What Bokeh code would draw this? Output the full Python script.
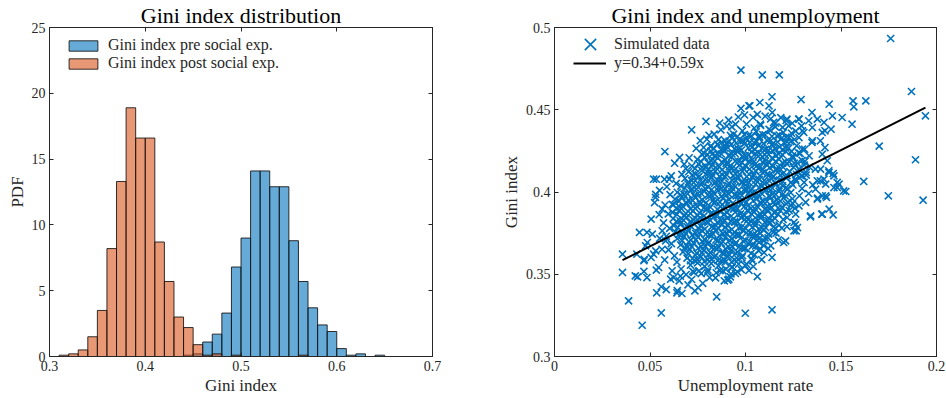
from bokeh.plotting import figure
from bokeh.layouts import row
from bokeh.models import Range1d, FixedTicker, LinearAxis, Legend, LegendItem
from bokeh.embed import file_html
from bokeh.resources import INLINE

FONT = "Liberation Serif"
TXT = "#262626"
BLUE = "#0072BD"
ORANGE = "#D95319"

# ---------------- histogram data (PDF per 0.01-wide bin) ----------------
bin_left = [0.30, 0.31, 0.32, 0.33, 0.34, 0.35, 0.36, 0.37, 0.38, 0.39,
            0.40, 0.41, 0.42, 0.43, 0.44, 0.45, 0.46, 0.47, 0.48, 0.49,
            0.50, 0.51, 0.52, 0.53, 0.54, 0.55, 0.56, 0.57, 0.58, 0.59,
            0.60, 0.61, 0.62, 0.63, 0.64, 0.65, 0.66, 0.67, 0.68, 0.69]
bin_width = 0.01
pdf_pre = [0, 0, 0, 0, 0, 0, 0, 0, 0, 0,
           0, 0, 0, 0, 0.1, 0.2, 1.1, 1.7, 3.3, 6.8,
           9.0, 14.1, 14.1, 12.9, 12.9, 8.8, 5.7, 3.7, 2.4, 1.9,
           0.6, 0.1, 0.2, 0, 0.1, 0, 0, 0, 0, 0]
pdf_post = [0, 0.1, 0.2, 0.5, 1.5, 3.5, 8.2, 13.3, 18.9, 16.6,
            16.6, 8.7, 5.7, 3.0, 2.2, 0.9, 0.1, 0.2, 0, 0.1,
            0, 0, 0, 0, 0, 0, 0.1, 0, 0, 0,
            0, 0, 0, 0, 0, 0, 0, 0, 0, 0]
hist_x_ticks = [0.3, 0.4, 0.5, 0.6, 0.7]
hist_x_labels = ["0.3", "0.4", "0.5", "0.6", "0.7"]
hist_y_ticks = [0, 5, 10, 15, 20, 25]
hist_y_labels = ["0", "5", "10", "15", "20", "25"]

# ---------------- scatter data ----------------
edge_unemp = [
    0.1760, 0.0976, 0.1088, 0.1177, 0.1869,
    0.1942, 0.1700, 0.1890, 0.1619, 0.1748,
    0.1930, 0.1630, 0.1563, 0.1567, 0.1558,
    0.1506, 0.1438, 0.1455, 0.1448, 0.1416,
    0.1348, 0.1291, 0.1139, 0.1075, 0.1023,
    0.0976, 0.0793, 0.0809, 0.0718, 0.0578,
    0.0629, 0.0655, 0.0679, 0.0519, 0.0533,
    0.0576, 0.0601, 0.0529, 0.0524, 0.0506,
    0.0356, 0.0356, 0.0388, 0.0459, 0.0559,
    0.0445, 0.0484, 0.0431, 0.0423, 0.0435,
    0.0468, 0.0484, 0.0470, 0.0506, 0.0519,
    0.0533, 0.0545, 0.0535, 0.0559, 0.0585,
    0.0641, 0.0667, 0.0653, 0.0624, 0.0659,
    0.0699, 0.0735, 0.0730, 0.0849, 0.0889,
    0.0907, 0.0921, 0.0947, 0.0812, 0.0999,
    0.1139, 0.1062, 0.1139, 0.1200, 0.1155,
    0.1217, 0.1265, 0.1261, 0.1340, 0.1399,
    0.1438, 0.1459, 0.1378, 0.1424, 0.1514,
    0.1525, 0.1480, 0.1459, 0.1436, 0.1366,
    0.1392, 0.1392, 0.1416, 0.1348, 0.1310,
    0.1305, 0.1331, 0.1279, 0.1293, 0.1217,
    0.1147, 0.1156, 0.1078, 0.1040, 0.0929,
    0.0894, 0.0819, 0.0781, 0.0772, 0.0825,
]
edge_gini = [
    0.4933, 0.4741, 0.4712, 0.4712, 0.4611,
    0.4463, 0.4279, 0.4196, 0.4064, 0.3977,
    0.3950, 0.4554, 0.4554, 0.4518, 0.4412,
    0.4453, 0.4534, 0.4463, 0.4382, 0.4270,
    0.4483, 0.4562, 0.4579, 0.4544, 0.4524,
    0.4508, 0.4429, 0.4345, 0.4378, 0.4246,
    0.4175, 0.4210, 0.4169, 0.4078, 0.4078,
    0.4078, 0.4078, 0.3967, 0.3936, 0.3835,
    0.3622, 0.3511, 0.3338, 0.3190, 0.3265,
    0.3754, 0.3754, 0.3622, 0.3490, 0.3484,
    0.3517, 0.3480, 0.3590, 0.3602, 0.3622,
    0.3525, 0.3541, 0.3387, 0.3424, 0.3407,
    0.3387, 0.3383, 0.3460, 0.3480, 0.3488,
    0.3436, 0.3399, 0.3511, 0.3363, 0.3460,
    0.3464, 0.3484, 0.3505, 0.3480, 0.3263,
    0.3284, 0.3486, 0.3602, 0.3693, 0.3778,
    0.3790, 0.3764, 0.3800, 0.3849, 0.3865,
    0.3896, 0.3861, 0.3963, 0.3967, 0.4007,
    0.4003, 0.4058, 0.4112, 0.4129, 0.4139,
    0.4068, 0.4311, 0.4372, 0.4301, 0.4260,
    0.4362, 0.4433, 0.4443, 0.4402, 0.4443,
    0.4423, 0.4396, 0.4412, 0.4453, 0.4396,
    0.4311, 0.4281, 0.4271, 0.4230, 0.4230,
]
mid_unemp = [
    0.1018, 0.1123, 0.1140, 0.1376, 0.1411,
    0.1402, 0.1280, 0.1298, 0.1350, 0.1280,
    0.1350, 0.1298, 0.1333, 0.1402, 0.1428,
    0.1393, 0.1437, 0.1463, 0.1490, 0.1463,
    0.1420, 0.1376, 0.1367, 0.1402, 0.1228,
    0.1263, 0.1255, 0.1280, 0.1298, 0.1263,
    0.1307, 0.1481, 0.1420, 0.1402, 0.1341,
    0.1376, 0.1315, 0.1280, 0.1263, 0.1254,
    0.1272, 0.1254, 0.1210, 0.1132, 0.1079,
    0.1097, 0.1036, 0.1190, 0.1160, 0.1411,
    0.0608, 0.0616, 0.0643, 0.0530, 0.0564,
    0.0550, 0.0512, 0.0486, 0.0477, 0.0468,
    0.0530, 0.0564, 0.0582, 0.0913, 0.0757,
    0.0588, 0.0605, 0.0579, 0.0596, 0.0571,
    0.0603, 0.0585, 0.0612, 0.0597, 0.0628,
    0.0641, 0.0577, 0.0563, 0.0551, 0.0611,
    0.0637, 0.0548, 0.0617, 0.0742, 0.0763,
    0.0798, 0.0836, 0.0871, 0.0902, 0.0948,
    0.0865, 0.0912, 0.0962, 0.0705, 0.0688,
    0.0667, 0.1062, 0.1103, 0.1132, 0.1185,
    0.1213, 0.1245, 0.0995, 0.1286, 0.1312,
    0.1335, 0.1318, 0.1296, 0.1282, 0.1331,
    0.1246, 0.1229, 0.1218, 0.1259, 0.1352,
    0.0663, 0.0689, 0.0718, 0.0776, 0.0801,
    0.0843, 0.0867, 0.0898, 0.0931, 0.0978,
    0.1006, 0.1018, 0.0752, 0.1048, 0.1071,
    0.1102, 0.1085, 0.1119, 0.1172, 0.1041,
]
mid_gini = [
    0.4524, 0.4524, 0.4483, 0.4443, 0.4423,
    0.4362, 0.4443, 0.4372, 0.4392, 0.4331,
    0.4311, 0.4261, 0.4220, 0.4230, 0.4190,
    0.4139, 0.4119, 0.4098, 0.4048, 0.4027,
    0.4048, 0.4068, 0.4017, 0.3977, 0.4331,
    0.4370, 0.4175, 0.4139, 0.4098, 0.4068,
    0.4058, 0.4027, 0.3977, 0.3866, 0.3855,
    0.3957, 0.3937, 0.3916, 0.3866, 0.3815,
    0.3784, 0.3764, 0.3703, 0.3673, 0.3653,
    0.3632, 0.3582, 0.3780, 0.3750, 0.4078,
    0.3470, 0.3521, 0.3400, 0.3985, 0.3896,
    0.4010, 0.3744, 0.3693, 0.3673, 0.3582,
    0.3642, 0.3764, 0.3703, 0.3470, 0.3521,
    0.4032, 0.3984, 0.3921, 0.3867, 0.3812,
    0.3779, 0.3731, 0.3686, 0.3648, 0.3612,
    0.3574, 0.3587, 0.3652, 0.3718, 0.4098,
    0.4052, 0.3862, 0.3925, 0.4265, 0.4312,
    0.4321, 0.4352, 0.4378, 0.4401, 0.4412,
    0.4419, 0.4437, 0.4456, 0.4208, 0.4143,
    0.4107, 0.4472, 0.4461, 0.4445, 0.4452,
    0.4435, 0.4418, 0.4468, 0.4235, 0.4187,
    0.4152, 0.4103, 0.4021, 0.3977, 0.3991,
    0.3932, 0.3887, 0.3845, 0.3901, 0.4043,
    0.3532, 0.3498, 0.3468, 0.3445, 0.3512,
    0.3478, 0.3522, 0.3531, 0.3542, 0.3528,
    0.3561, 0.3523, 0.3418, 0.3618, 0.3695,
    0.3721, 0.3589, 0.3657, 0.3708, 0.3547,
]
core_unemp = [
    0.1005, 0.1046, 0.1079, 0.1123, 0.1157, 0.1194, 0.1226,
    0.0938, 0.0984, 0.1017, 0.1056, 0.1090, 0.1131, 0.1165, 0.1198, 0.1241,
    0.0858, 0.0899, 0.0931, 0.0972, 0.1003, 0.1044, 0.1074, 0.1115, 0.1146, 0.1189, 0.1218, 0.1256,
    0.0817, 0.0853, 0.0891, 0.0924, 0.0962, 0.0995, 0.1034, 0.1068, 0.1105, 0.1139, 0.1178, 0.1211, 0.1241, 0.1268,
    0.0783, 0.0819, 0.0857, 0.0889, 0.0928, 0.0961, 0.0998, 0.1031, 0.1069, 0.1102, 0.1141, 0.1174, 0.1212, 0.1246, 0.1279,
    0.0748, 0.0786, 0.0821, 0.0855, 0.0893, 0.0927, 0.0964, 0.0996, 0.1035, 0.1067, 0.1104, 0.1139, 0.1176, 0.1209, 0.1247, 0.1271, 0.1296,
    0.0719, 0.0754, 0.0792, 0.0826, 0.0861, 0.0898, 0.0931, 0.0968, 0.1002, 0.1039, 0.1073, 0.1108, 0.1144, 0.1179, 0.1216, 0.1251, 0.1281, 0.1308,
    0.0702, 0.0737, 0.0771, 0.0808, 0.0842, 0.0879, 0.0913, 0.0948, 0.0984, 0.1019, 0.1053, 0.1091, 0.1124, 0.1161, 0.1195, 0.1232, 0.1267, 0.1292, 0.1318,
    0.0683, 0.0718, 0.0754, 0.0789, 0.0823, 0.0861, 0.0894, 0.0931, 0.0965, 0.1001, 0.1036, 0.1072, 0.1107, 0.1143, 0.1178, 0.1213, 0.1238, 0.1262,
    0.0662, 0.0699, 0.0733, 0.0769, 0.0804, 0.0838, 0.0875, 0.0909, 0.0946, 0.0981, 0.1015, 0.1052, 0.1086, 0.1123, 0.1157, 0.1194, 0.1221, 0.1248,
    0.0643, 0.0678, 0.0714, 0.0751, 0.0785, 0.0822, 0.0856, 0.0893, 0.0927, 0.0962, 0.0998, 0.1034, 0.1069, 0.1105, 0.1141, 0.1176, 0.1208, 0.1237,
    0.0631, 0.0667, 0.0702, 0.0738, 0.0773, 0.0809, 0.0844, 0.0881, 0.0915, 0.0951, 0.0986, 0.1022, 0.1057, 0.1093, 0.1128, 0.1164, 0.1199, 0.1222, 0.1246,
    0.0622, 0.0656, 0.0693, 0.0727, 0.0764, 0.0798, 0.0835, 0.0869, 0.0906, 0.0941, 0.0976, 0.1012, 0.1047, 0.1083, 0.1118, 0.1154, 0.1189, 0.1214, 0.1238,
    0.0618, 0.0654, 0.0689, 0.0725, 0.0761, 0.0796, 0.0832, 0.0867, 0.0903, 0.0938, 0.0974, 0.1009, 0.1045, 0.1081, 0.1116, 0.1152, 0.1184, 0.1213,
    0.0621, 0.0657, 0.0692, 0.0728, 0.0763, 0.0799, 0.0834, 0.0871, 0.0905, 0.0942, 0.0977, 0.1013, 0.1048, 0.1084, 0.1119, 0.1155, 0.1197,
    0.0624, 0.0661, 0.0695, 0.0732, 0.0766, 0.0803, 0.0837, 0.0874, 0.0908, 0.0945, 0.0979, 0.1016, 0.1051, 0.1087, 0.1122, 0.1149, 0.1176,
    0.0632, 0.0668, 0.0703, 0.0739, 0.0774, 0.0811, 0.0845, 0.0882, 0.0916, 0.0953, 0.0987, 0.1024, 0.1058, 0.1095, 0.1121, 0.1146,
    0.0643, 0.0679, 0.0714, 0.0751, 0.0786, 0.0822, 0.0857, 0.0893, 0.0928, 0.0964, 0.0999, 0.1035, 0.1071, 0.1096, 0.1118,
    0.0661, 0.0697, 0.0732, 0.0768, 0.0803, 0.0839, 0.0874, 0.0911, 0.0945, 0.0982, 0.1016, 0.1053, 0.1094,
    0.0673, 0.0709, 0.0745, 0.0781, 0.0816, 0.0852, 0.0887, 0.0923, 0.0958, 0.0994, 0.1029, 0.1068,
    0.0694, 0.0731, 0.0767, 0.0802, 0.0838, 0.0873, 0.0909, 0.0944, 0.0981, 0.1032,
    0.0712, 0.0749, 0.0786, 0.0821, 0.0858, 0.0893, 0.0929, 0.0964, 0.0998,
    0.0724, 0.0768, 0.0803, 0.0847, 0.0882, 0.0924, 0.0958,
]
core_gini = [
    0.4412, 0.4389, 0.4405, 0.4381, 0.4418, 0.4393, 0.4402,
    0.4352, 0.4371, 0.4344, 0.4366, 0.4349, 0.4374, 0.4341, 0.4362, 0.4357,
    0.4318, 0.4296, 0.4329, 0.4307, 0.4322, 0.4301, 0.4334, 0.4312, 0.4298, 0.4326, 0.4305, 0.4319,
    0.4276, 0.4291, 0.4268, 0.4287, 0.4262, 0.4294, 0.4271, 0.4283, 0.4259, 0.4288, 0.4273, 0.4266, 0.4247, 0.4281,
    0.4236, 0.4249, 0.4228, 0.4254, 0.4232, 0.4247, 0.4221, 0.4243, 0.4237, 0.4226, 0.4252, 0.4231, 0.4245, 0.4219, 0.4238,
    0.4198, 0.4211, 0.4189, 0.4207, 0.4193, 0.4214, 0.4186, 0.4203, 0.4195, 0.4217, 0.4188, 0.4206, 0.4199, 0.4184, 0.4209, 0.4176, 0.4192,
    0.4158, 0.4171, 0.4149, 0.4166, 0.4152, 0.4174, 0.4146, 0.4163, 0.4155, 0.4177, 0.4148, 0.4169, 0.4157, 0.4143, 0.4172, 0.4151, 0.4138, 0.4164,
    0.4123, 0.4109, 0.4131, 0.4114, 0.4127, 0.4105, 0.4134, 0.4112, 0.4126, 0.4108, 0.4129, 0.4116, 0.4102, 0.4133, 0.4111, 0.4124, 0.4107, 0.4098, 0.4119,
    0.4082, 0.4069, 0.4091, 0.4074, 0.4087, 0.4066, 0.4093, 0.4071, 0.4085, 0.4063, 0.4089, 0.4077, 0.4061, 0.4092, 0.4072, 0.4086, 0.4058, 0.4079,
    0.4036, 0.4049, 0.4028, 0.4045, 0.4031, 0.4052, 0.4024, 0.4041, 0.4033, 0.4055, 0.4026, 0.4047, 0.4035, 0.4022, 0.4051, 0.4038, 0.4019, 0.4043,
    0.3998, 0.3985, 0.4009, 0.3991, 0.4004, 0.3982, 0.4011, 0.3989, 0.4002, 0.3979, 0.4007, 0.3994, 0.3981, 0.4013, 0.3987, 0.4005, 0.3976, 0.3996,
    0.3957, 0.3971, 0.3949, 0.3966, 0.3952, 0.3974, 0.3945, 0.3962, 0.3954, 0.3977, 0.3947, 0.3968, 0.3956, 0.3942, 0.3973, 0.3951, 0.3964, 0.3938, 0.3959,
    0.3921, 0.3908, 0.3929, 0.3912, 0.3926, 0.3904, 0.3933, 0.3911, 0.3924, 0.3902, 0.3928, 0.3915, 0.3901, 0.3932, 0.3909, 0.3923, 0.3906, 0.3927, 0.3918,
    0.3876, 0.3889, 0.3868, 0.3885, 0.3871, 0.3893, 0.3865, 0.3882, 0.3874, 0.3896, 0.3867, 0.3888, 0.3877, 0.3862, 0.3891, 0.3873, 0.3886, 0.3881,
    0.3838, 0.3825, 0.3847, 0.3829, 0.3843, 0.3821, 0.3849, 0.3827, 0.3841, 0.3819, 0.3845, 0.3832, 0.3818, 0.3848, 0.3826, 0.3839, 0.3833,
    0.3796, 0.3809, 0.3788, 0.3805, 0.3791, 0.3813, 0.3785, 0.3802, 0.3794, 0.3816, 0.3787, 0.3808, 0.3797, 0.3782, 0.3811, 0.3789, 0.3799,
    0.3758, 0.3745, 0.3767, 0.3749, 0.3763, 0.3741, 0.3769, 0.3747, 0.3761, 0.3739, 0.3765, 0.3752, 0.3738, 0.3768, 0.3744, 0.3755,
    0.3716, 0.3729, 0.3708, 0.3725, 0.3711, 0.3733, 0.3705, 0.3722, 0.3714, 0.3736, 0.3707, 0.3728, 0.3717, 0.3703, 0.3721,
    0.3678, 0.3665, 0.3687, 0.3669, 0.3683, 0.3661, 0.3689, 0.3667, 0.3681, 0.3659, 0.3685, 0.3672, 0.3676,
    0.3636, 0.3649, 0.3628, 0.3645, 0.3631, 0.3653, 0.3625, 0.3642, 0.3634, 0.3656, 0.3627, 0.3644,
    0.3598, 0.3585, 0.3607, 0.3589, 0.3603, 0.3581, 0.3609, 0.3587, 0.3601, 0.3594,
    0.3556, 0.3569, 0.3548, 0.3565, 0.3551, 0.3573, 0.3545, 0.3562, 0.3554,
    0.3518, 0.3504, 0.3525, 0.3509, 0.3521, 0.3502, 0.3514,
]
dense_unemp = [
    0.0801, 0.0838, 0.0874, 0.0911, 0.0945, 0.0982, 0.1017, 0.1051, 0.1088, 0.1122, 0.1159, 0.1193,
    0.0736, 0.0773, 0.0809, 0.0844, 0.0879, 0.0915, 0.0949, 0.0986, 0.1021, 0.1056, 0.1092, 0.1126, 0.1162, 0.1197,
    0.0701, 0.0737, 0.0772, 0.0806, 0.0843, 0.0877, 0.0913, 0.0948, 0.0983, 0.1018, 0.1054, 0.1089, 0.1125, 0.1159, 0.1196,
    0.0661, 0.0697, 0.0732, 0.0768, 0.0804, 0.0839, 0.0875, 0.0910, 0.0944, 0.0981, 0.1016, 0.1051, 0.1087, 0.1122, 0.1158, 0.1193,
    0.0639, 0.0674, 0.0711, 0.0746, 0.0781, 0.0817, 0.0852, 0.0888, 0.0923, 0.0958, 0.0994, 0.1029, 0.1065, 0.1101, 0.1136, 0.1171,
    0.0639, 0.0675, 0.0709, 0.0746, 0.0781, 0.0816, 0.0852, 0.0888, 0.0924, 0.0959, 0.0995, 0.1031, 0.1066, 0.1101, 0.1138,
    0.0651, 0.0686, 0.0721, 0.0757, 0.0792, 0.0828, 0.0863, 0.0899, 0.0934, 0.0969, 0.1005, 0.1041, 0.1077,
    0.0682, 0.0718, 0.0752, 0.0788, 0.0823, 0.0859, 0.0894, 0.0929, 0.0965, 0.1001, 0.1036,
    0.0876, 0.0914, 0.0951, 0.0987, 0.1024, 0.1059, 0.1095, 0.1131, 0.1168, 0.1203, 0.1237,
    0.0712, 0.0748, 0.0785, 0.0821, 0.0856, 0.0891, 0.0927, 0.0962,
]
dense_gini = [
    0.4228, 0.4219, 0.4231, 0.4222, 0.4234, 0.4217, 0.4226, 0.4233, 0.4215, 0.4229, 0.4221, 0.4227,
    0.4142, 0.4151, 0.4138, 0.4149, 0.4136, 0.4153, 0.4141, 0.4147, 0.4139, 0.4155, 0.4137, 0.4148, 0.4143, 0.4151,
    0.4061, 0.4068, 0.4057, 0.4071, 0.4062, 0.4066, 0.4054, 0.4069, 0.4063, 0.4058, 0.4072, 0.4060, 0.4067, 0.4056, 0.4064,
    0.3982, 0.3989, 0.3978, 0.3991, 0.3983, 0.3987, 0.3975, 0.3990, 0.3984, 0.3979, 0.3992, 0.3981, 0.3988, 0.3976, 0.3986, 0.3983,
    0.3902, 0.3909, 0.3898, 0.3911, 0.3903, 0.3907, 0.3895, 0.3910, 0.3904, 0.3899, 0.3912, 0.3901, 0.3908, 0.3896, 0.3906, 0.3903,
    0.3822, 0.3829, 0.3818, 0.3831, 0.3823, 0.3827, 0.3815, 0.3830, 0.3824, 0.3819, 0.3832, 0.3821, 0.3828, 0.3816, 0.3826,
    0.3742, 0.3749, 0.3738, 0.3751, 0.3743, 0.3747, 0.3735, 0.3750, 0.3744, 0.3739, 0.3752, 0.3741, 0.3748,
    0.3662, 0.3669, 0.3658, 0.3671, 0.3663, 0.3667, 0.3655, 0.3670, 0.3664, 0.3659, 0.3672,
    0.4302, 0.4309, 0.4298, 0.4311, 0.4303, 0.4307, 0.4295, 0.4310, 0.4304, 0.4299, 0.4306,
    0.3582, 0.3589, 0.3578, 0.3591, 0.3583, 0.3587, 0.3575, 0.3590,
]
inner_unemp = [
    0.0835, 0.0872, 0.0908, 0.0943, 0.0979, 0.1014, 0.1049, 0.1086, 0.1121, 0.1157, 0.1194, 0.1226,
    0.0768, 0.0805, 0.0839, 0.0876, 0.0911, 0.0946, 0.0982, 0.1018, 0.1054, 0.1089, 0.1124, 0.1158, 0.1194, 0.1229,
    0.0722, 0.0757, 0.0793, 0.0828, 0.0864, 0.0899, 0.0935, 0.0969, 0.1006, 0.1041, 0.1076, 0.1112, 0.1147, 0.1182, 0.1217,
    0.0683, 0.0718, 0.0752, 0.0788, 0.0823, 0.0858, 0.0894, 0.0928, 0.0965, 0.0999, 0.1035, 0.1071, 0.1106, 0.1141, 0.1177, 0.1212,
    0.0652, 0.0688, 0.0723, 0.0759, 0.0794, 0.0829, 0.0866, 0.0899, 0.0934, 0.0971, 0.1005, 0.1041, 0.1076, 0.1112, 0.1147, 0.1183,
    0.0641, 0.0676, 0.0712, 0.0747, 0.0783, 0.0818, 0.0853, 0.0889, 0.0925, 0.0959, 0.0995, 0.1031, 0.1065, 0.1101, 0.1136, 0.1171,
    0.0646, 0.0681, 0.0717, 0.0752, 0.0788, 0.0823, 0.0859, 0.0893, 0.0929, 0.0965, 0.1001, 0.1036, 0.1071, 0.1106,
    0.0668, 0.0703, 0.0739, 0.0774, 0.0809, 0.0845, 0.0881, 0.0916, 0.0951, 0.0987, 0.1022, 0.1058,
    0.0701, 0.0737, 0.0772, 0.0808, 0.0843, 0.0878, 0.0914, 0.0949, 0.0985,
    0.0921, 0.0958, 0.0994, 0.1031, 0.1067, 0.1103, 0.1139, 0.1176, 0.1212,
]
inner_gini = [
    0.4264, 0.4257, 0.4269, 0.4261, 0.4255, 0.4268, 0.4259, 0.4266, 0.4253, 0.4262, 0.4258, 0.4267,
    0.4184, 0.4177, 0.4189, 0.4181, 0.4175, 0.4188, 0.4179, 0.4186, 0.4173, 0.4182, 0.4178, 0.4187, 0.4176, 0.4183,
    0.4104, 0.4097, 0.4109, 0.4101, 0.4095, 0.4108, 0.4099, 0.4106, 0.4093, 0.4102, 0.4098, 0.4107, 0.4096, 0.4103, 0.4100,
    0.4024, 0.4017, 0.4029, 0.4021, 0.4015, 0.4028, 0.4019, 0.4026, 0.4013, 0.4022, 0.4018, 0.4027, 0.4016, 0.4023, 0.4020, 0.4025,
    0.3944, 0.3937, 0.3949, 0.3941, 0.3935, 0.3948, 0.3939, 0.3946, 0.3933, 0.3942, 0.3938, 0.3947, 0.3936, 0.3943, 0.3940, 0.3945,
    0.3864, 0.3857, 0.3869, 0.3861, 0.3855, 0.3868, 0.3859, 0.3866, 0.3853, 0.3862, 0.3858, 0.3867, 0.3856, 0.3863, 0.3860, 0.3865,
    0.3784, 0.3777, 0.3789, 0.3781, 0.3775, 0.3788, 0.3779, 0.3786, 0.3773, 0.3782, 0.3778, 0.3787, 0.3776, 0.3783,
    0.3704, 0.3697, 0.3709, 0.3701, 0.3695, 0.3708, 0.3699, 0.3706, 0.3693, 0.3702, 0.3698, 0.3707,
    0.3624, 0.3617, 0.3629, 0.3621, 0.3615, 0.3628, 0.3619, 0.3626, 0.3613,
    0.4344, 0.4337, 0.4349, 0.4341, 0.4335, 0.4348, 0.4339, 0.4346, 0.4333,
]
assert len(edge_unemp) == len(edge_gini)
assert len(mid_unemp) == len(mid_gini)
assert len(core_unemp) == len(core_gini)
assert len(dense_unemp) == len(dense_gini)
assert len(inner_unemp) == len(inner_gini)

# fitted regression line reported in the legend
fit_intercept = 0.3377
fit_slope = 0.585

scat_x_ticks = [0, 0.05, 0.1, 0.15, 0.2]
scat_x_labels = ["0", "0.05", "0.1", "0.15", "0.2"]
scat_y_ticks = [0.3, 0.35, 0.4, 0.45, 0.5]
scat_y_labels = ["0.3", "0.35", "0.4", "0.45", "0.5"]


def style_axis(ax, ticks, labels, label_text, show_labels=True):
    ax.ticker = FixedTicker(ticks=ticks)
    ax.major_tick_in = 4
    ax.major_tick_out = 0
    ax.minor_tick_line_color = None
    ax.axis_line_color = TXT
    ax.axis_line_width = 1
    ax.major_tick_line_color = TXT
    if show_labels:
        ax.major_label_overrides = {t: l for t, l in zip(ticks, labels)}
        ax.major_label_text_font = FONT
        ax.major_label_text_font_size = "14px"
        ax.major_label_text_color = TXT
        ax.major_label_standoff = 4
        ax.axis_label = label_text
        ax.axis_label_text_font = FONT
        ax.axis_label_text_font_size = "17px"
        ax.axis_label_text_font_style = "normal"
        ax.axis_label_text_color = TXT
        ax.axis_label_standoff = 2
    else:
        ax.major_label_overrides = {t: "" for t in ticks}
        ax.major_label_text_font_size = "0px"
        ax.major_label_standoff = 0


def make_fig(title, xr, yr, bl, br, xt, xl, yt, yl, xlab, ylab):
    p = figure(width=473, height=398, x_range=Range1d(*xr), y_range=Range1d(*yr),
               output_backend="svg", toolbar_location=None, title=title,
               min_border_left=bl, min_border_right=br,
               min_border_top=27, min_border_bottom=42)
    p.xgrid.visible = False
    p.ygrid.visible = False
    p.outline_line_color = TXT
    p.outline_line_width = 1
    p.background_fill_color = "white"
    p.border_fill_color = "white"
    p.title.text_font = FONT
    p.title.text_font_size = "22px"
    p.title.text_font_style = "normal"
    p.title.text_color = "#000000"
    p.title.align = "center"
    p.title.standoff = 0
    style_axis(p.xaxis[0], xt, xl, xlab)
    style_axis(p.yaxis[0], yt, yl, ylab)
    top = LinearAxis()
    style_axis(top, xt, xl, None, show_labels=False)
    p.add_layout(top, "above")
    right = LinearAxis()
    style_axis(right, yt, yl, None, show_labels=False)
    p.add_layout(right, "right")
    return p


# ---------------- left: histogram ----------------
p1 = make_fig("Gini index distribution", (0.3, 0.7), (0, 25), 49, 41,
              hist_x_ticks, hist_x_labels, hist_y_ticks, hist_y_labels, "Gini index", "PDF")


def nonzero_bars(vals):
    left = [b for b, v in zip(bin_left, vals) if v > 0]
    top = [v for v in vals if v > 0]
    right = [round(b + bin_width, 4) for b in left]
    return left, right, top


l, r, t = nonzero_bars(pdf_pre)
r_pre = p1.quad(left=l, right=r, bottom=0, top=t, fill_color=BLUE, fill_alpha=0.6,
                line_color="#111111", line_width=1, line_alpha=0.85)
l, r, t = nonzero_bars(pdf_post)
r_post = p1.quad(left=l, right=r, bottom=0, top=t, fill_color=ORANGE, fill_alpha=0.6,
                 line_color="#111111", line_width=1, line_alpha=0.85)

leg1 = Legend(items=[LegendItem(label="Gini index pre social exp.", renderers=[r_pre]),
                     LegendItem(label="Gini index post social exp.", renderers=[r_post])],
              location=(16, 284), glyph_width=36, glyph_height=13, label_height=13,
              spacing=0, padding=0, margin=0, label_standoff=7,
              border_line_color=None, background_fill_alpha=0,
              label_text_font=FONT, label_text_font_size="16px", label_text_color=TXT)
p1.add_layout(leg1)

# ---------------- right: scatter ----------------
p2 = make_fig("Gini index and unemployment", (0, 0.2), (0.3, 0.5), 81, 10,
              scat_x_ticks, scat_x_labels, scat_y_ticks, scat_y_labels,
              "Unemployment rate", "Gini index")

unemployment = core_unemp + dense_unemp + inner_unemp + mid_unemp + edge_unemp
gini = core_gini + dense_gini + inner_gini + mid_gini + edge_gini
r_sc = p2.scatter(unemployment, gini, marker="x", size=10, line_color=BLUE, line_width=1.6)
line_x = [min(unemployment), max(unemployment)]
line_y = [fit_intercept + fit_slope * v for v in line_x]
r_ln = p2.line(line_x, line_y, line_color="black", line_width=2)

legA = Legend(items=[LegendItem(label="Simulated data", renderers=[r_sc])],
              location=(16, 292), glyph_width=40, glyph_height=40, label_height=0,
              padding=0, margin=0, label_standoff=4,
              border_line_color=None, background_fill_alpha=0,
              label_text_font=FONT, label_text_font_size="16px", label_text_color=TXT)
legB = Legend(items=[LegendItem(label="y=0.34+0.59x", renderers=[r_ln])],
              location=(19, 284), glyph_width=33, glyph_height=18, label_height=0,
              padding=0, margin=0, label_standoff=8,
              border_line_color=None, background_fill_alpha=0,
              label_text_font=FONT, label_text_font_size="16px", label_text_color=TXT)
p2.add_layout(legA)
p2.add_layout(legB)

layout = row(p1, p2)
open("out.html", "w").write(file_html(layout, INLINE))
